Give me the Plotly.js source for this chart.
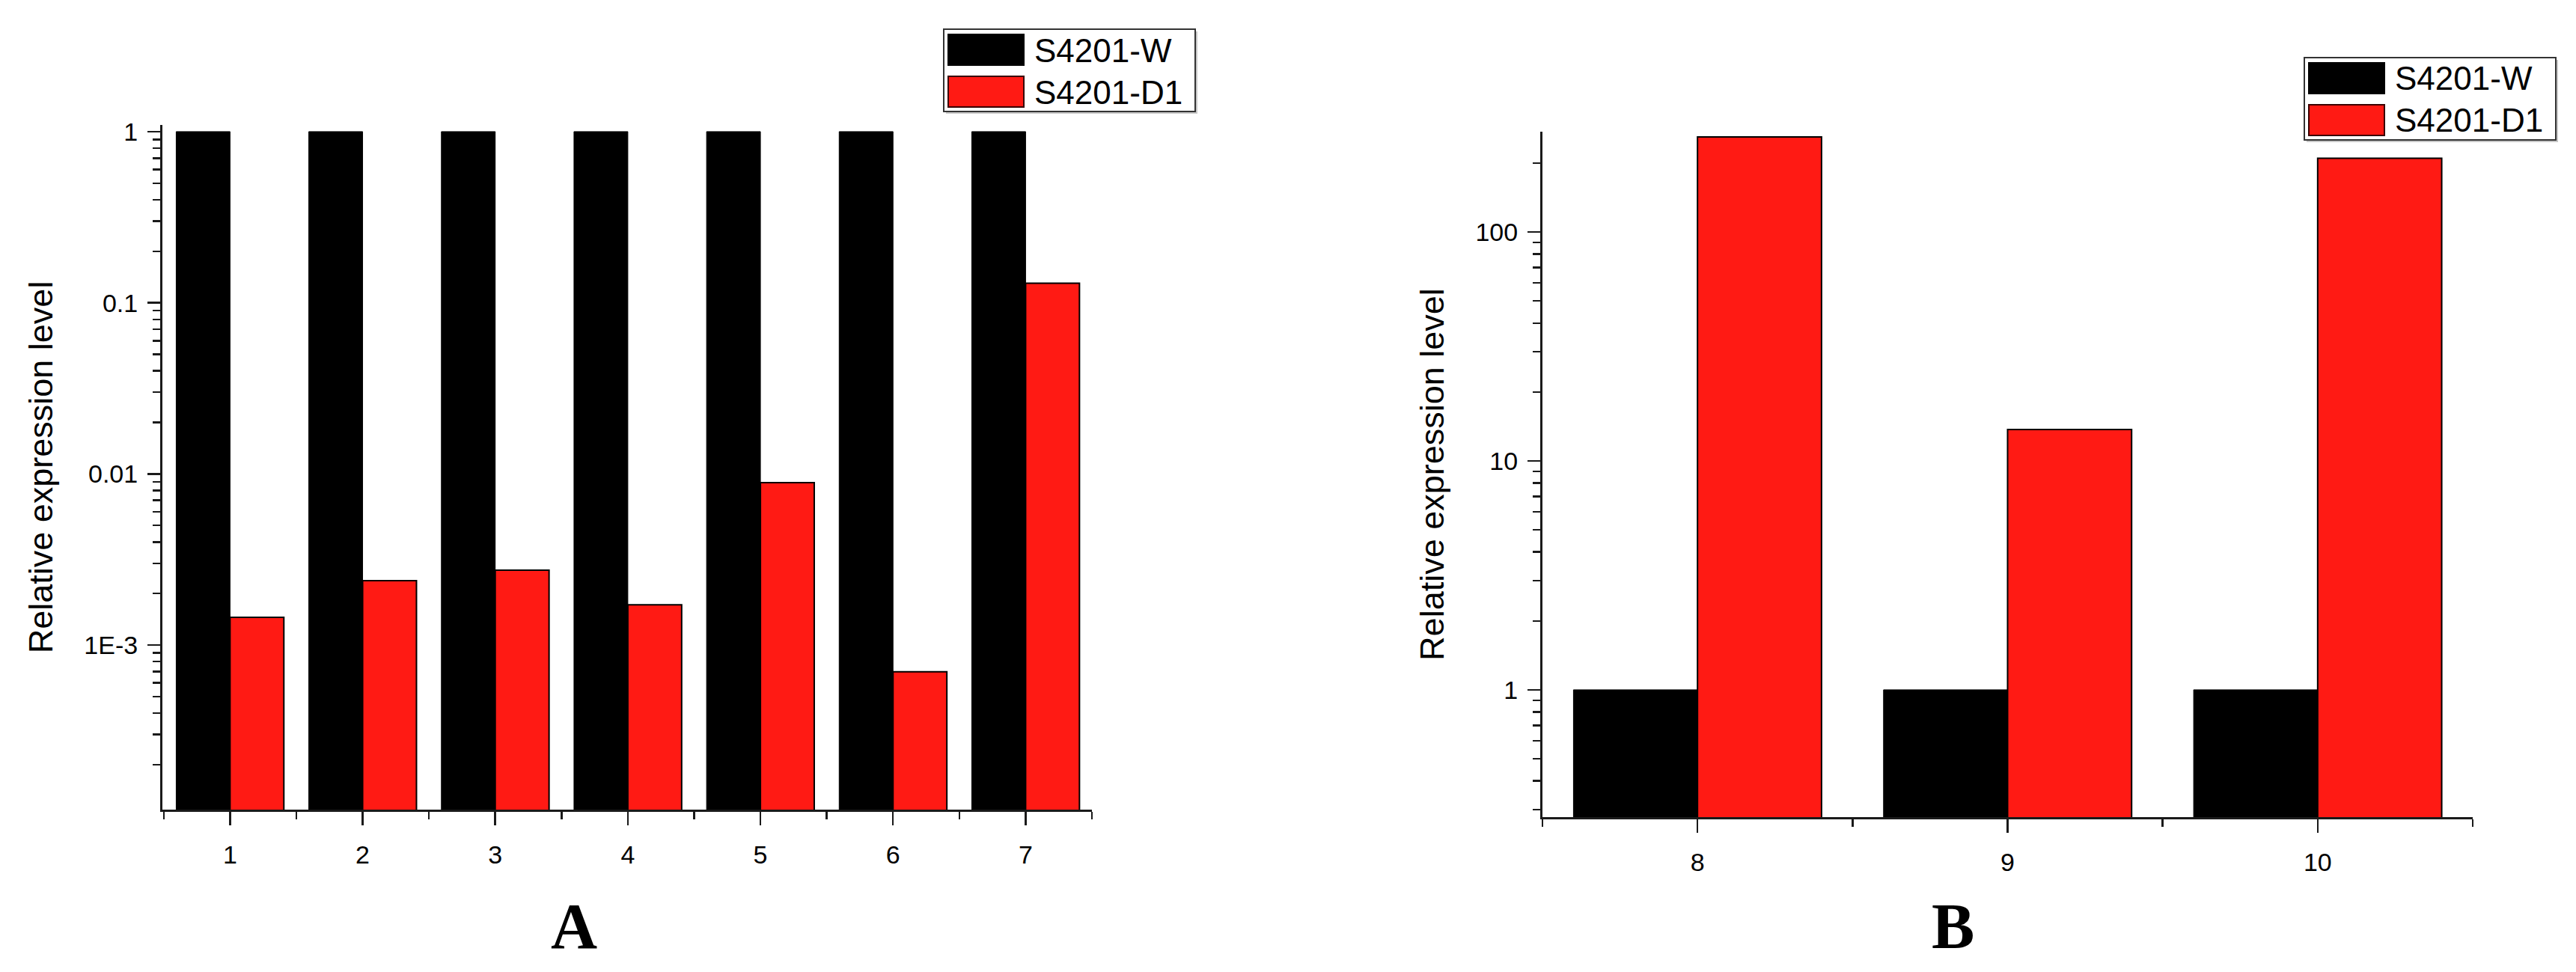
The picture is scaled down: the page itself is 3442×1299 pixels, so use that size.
<!DOCTYPE html>
<html>
<head>
<meta charset="utf-8">
<script src="https://cdn.plot.ly/plotly-3.0.1.min.js"></script>
<style>
  html, body { margin: 0; padding: 0; background: #fff; }
  #chart { width: 3442px; height: 1299px; }
</style>
</head>
<body>
<div id="chart"></div>
<script>
// data
var seriesNames = ['S4201-W', 'S4201-D1'];
var seriesColors = ['#000000', '#ff1a14'];

var catsA = [1, 2, 3, 4, 5, 6, 7];
var wildA = [1, 1, 1, 1, 1, 1, 1];
var mutA = [0.00145, 0.00238, 0.00274, 0.00172, 0.0089, 0.000697, 0.13];
var tickValsA = [0.001, 0.01, 0.1, 1];
var tickTextA = ['1E-3', '0.01', '0.1', '1'];

var catsB = [8, 9, 10];
var wildB = [1, 1, 1];
var mutB = [260, 13.7, 210];
var tickValsB = [1, 10, 100];
var tickTextB = ['1', '10', '100'];

var W = 3442, H = 1299;
function px(p) { return p / W; }
function py(p) { return 1 - p / H; }

var FONT = 'Liberation Sans, Arial, sans-serif';
var AXIS_COLOR = '#1a1a1a';

// 2..9 in every decade, for the small log ticks
function logMinor(lo, hi) {
  var out = [];
  for (var d = lo; d <= hi; d++) {
    for (var k = 2; k <= 9; k++) out.push(k * Math.pow(10, d));
  }
  return out;
}

function barTrace(name, x, y, color, xa, ya, w, off) {
  return {
    type: 'bar',
    name: name,
    x: x,
    y: y,
    xaxis: xa,
    yaxis: ya,
    width: w,
    offset: off,
    marker: {color: color, line: {color: '#000', width: color === '#000000' ? 1 : 2}},
    showlegend: false,
    hoverinfo: 'x+y+name'
  };
}

var wA = 0.406, wB = 0.40;
var data = [
  barTrace(seriesNames[0], catsA, wildA, seriesColors[0], 'x', 'y', wA, -wA),
  barTrace(seriesNames[1], catsA, mutA, seriesColors[1], 'x', 'y', wA, 0),
  barTrace(seriesNames[0], catsB, wildB, seriesColors[0], 'x2', 'y2', wB, -wB),
  barTrace(seriesNames[1], catsB, mutB, seriesColors[1], 'x2', 'y2', wB, 0)
];

function xAxis(domain, range, tickvals, anchor) {
  return {
    domain: domain,
    range: range,
    anchor: anchor,
    tickmode: 'array',
    tickvals: tickvals,
    ticks: 'outside',
    ticklen: 18,
    tickwidth: 2.5,
    tickcolor: AXIS_COLOR,
    ticklabelstandoff: 10,
    minor: {tick0: 0.5, dtick: 1, ticks: 'outside', ticklen: 10, tickwidth: 2.5, tickcolor: AXIS_COLOR, showgrid: false},
    showline: true,
    linecolor: AXIS_COLOR,
    linewidth: 3,
    showgrid: false,
    zeroline: false,
    fixedrange: true,
    tickfont: {family: FONT, size: 34, color: '#000'}
  };
}

function yAxis(domain, range, tickvals, ticktext, anchor) {
  return {
    type: 'log',
    domain: domain,
    range: range,
    anchor: anchor,
    tickmode: 'array',
    tickvals: tickvals,
    ticktext: ticktext,
    ticks: 'outside',
    ticklen: 17,
    tickwidth: 2.5,
    tickcolor: AXIS_COLOR,
    ticklabelstandoff: 6,
    minor: {tickmode: 'array', tickvals: logMinor(Math.floor(range[0]), Math.floor(range[1])),
            ticks: 'outside', ticklen: 10, tickwidth: 2.5, tickcolor: AXIS_COLOR, showgrid: false},
    showline: true,
    linecolor: AXIS_COLOR,
    linewidth: 3,
    showgrid: false,
    zeroline: false,
    fixedrange: true,
    tickfont: {family: FONT, size: 34, color: '#000'},
    title: {text: 'Relative expression level', font: {family: FONT, size: 45, color: '#000'}, standoff: 28}
  };
}

var layout = {
  width: W,
  height: H,
  margin: {l: 0, r: 0, t: 0, b: 0},
  paper_bgcolor: '#fff',
  plot_bgcolor: '#fff',
  barmode: 'overlay',
  showlegend: false,
  xaxis: xAxis([px(217), px(1459)], [0.49, 7.5], catsA, 'y'),
  yaxis: yAxis([py(1082), py(167)], [-3.962, 0.039], tickValsA, tickTextA, 'x'),
  xaxis2: xAxis([px(2061), px(3304)], [7.5, 10.5], catsB, 'y2'),
  yaxis2: yAxis([py(1092), py(176)], [-0.556, 2.438], tickValsB, tickTextB, 'x2'),
  shapes: [],
  annotations: [
    {xref: 'paper', yref: 'paper', x: px(767), y: py(1238), text: '<b>A</b>', showarrow: false,
     xanchor: 'center', yanchor: 'middle', font: {family: 'Liberation Serif, Times New Roman, serif', size: 86, color: '#000'}},
    {xref: 'paper', yref: 'paper', x: px(2609), y: py(1238), text: '<b>B</b>', showarrow: false,
     xanchor: 'center', yanchor: 'middle', font: {family: 'Liberation Serif, Times New Roman, serif', size: 86, color: '#000'}}
  ]
};

// boxed legends, one per panel, drawn from the series names and colours
function addLegend(left, top) {
  layout.shapes.push({type: 'rect', xref: 'paper', yref: 'paper',
    x0: px(left + 3), x1: px(left + 339), y0: py(top + 113), y1: py(top + 3),
    line: {width: 0}, fillcolor: '#c8c8c8', layer: 'above'});
  layout.shapes.push({type: 'rect', xref: 'paper', yref: 'paper',
    x0: px(left), x1: px(left + 336), y0: py(top + 110), y1: py(top),
    line: {color: '#333', width: 2}, fillcolor: '#fff', layer: 'above'});
  seriesNames.forEach(function (name, i) {
    var y0 = top + 7 + i * 56;
    layout.shapes.push({type: 'rect', xref: 'paper', yref: 'paper',
      x0: px(left + 6), x1: px(left + 107), y0: py(y0 + 41), y1: py(y0),
      line: {color: i === 0 ? '#000' : '#3a0000', width: 2}, fillcolor: seriesColors[i], layer: 'above'});
    layout.annotations.push({xref: 'paper', yref: 'paper', x: px(left + 119), y: py(y0 + 21),
      text: name, showarrow: false, xanchor: 'left', yanchor: 'middle',
      font: {family: FONT, size: 44, color: '#000'}});
  });
}
addLegend(1261, 39);
addLegend(3079, 77);

Plotly.newPlot('chart', data, layout, {displayModeBar: false, staticPlot: true});
</script>
</body>
</html>
